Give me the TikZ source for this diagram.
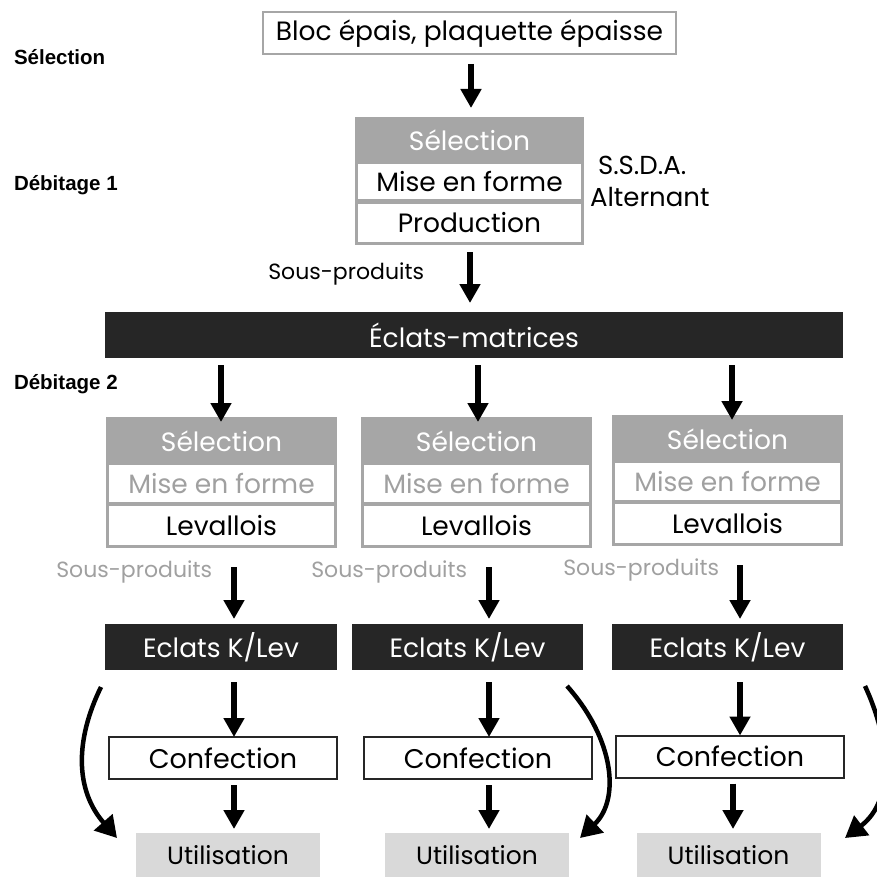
\documentclass[tikz,border=0pt]{standalone}
\usepackage{fontspec}
\setmainfont{Poppins}
\newfontfamily\lblfont{Liberation Sans}
\usetikzlibrary{arrows.meta}
\definecolor{hdrgray}{HTML}{A6A6A6}
\definecolor{bordgray}{HTML}{A6A6A6}
\definecolor{darkbar}{HTML}{262626}
\definecolor{utilgray}{HTML}{D9D9D9}
\definecolor{softtext}{HTML}{A0A0A0}
\tikzset{
  every node/.style={inner sep=0pt, outer sep=0pt},
  arr/.style={line width=5.5pt, -{Triangle[width=20pt,length=19pt]}},
  carr/.style={line width=4.5pt, -{Triangle[width=24pt,length=21pt]}},
  lbl/.style={anchor=west, font=\lblfont\bfseries\fontsize{20.5}{24}\selectfont},
  topbox/.style={draw=bordgray, line width=2pt, fill=white, minimum width=413pt, minimum height=42pt, font=\fontsize{26.5}{30}\selectfont},
  outer/.style={draw=bordgray, line width=2pt, fill=hdrgray},
  hdr/.style={text=white, font=\fontsize{26.5}{30}\selectfont},
  row/.style={fill=white, font=\fontsize{26.5}{30}\selectfont},
  dark/.style={fill=darkbar, text=white, font=\fontsize{26.5}{30}\selectfont},
  conf/.style={draw=darkbar, line width=2pt, fill=white, minimum width=228pt, minimum height=42pt, font=\fontsize{27}{30}\selectfont},
  util/.style={fill=utilgray, minimum width=184pt, minimum height=45pt, font=\fontsize{25}{30}\selectfont},
  sp/.style={font=\fontsize{22}{26}\selectfont}
}
\begin{document}
\begin{tikzpicture}[x=1pt,y=-1pt]
\useasboundingbox (0,0) rectangle (877,877);
% left labels
\node[lbl] (l1) at (14,57) {Sélection};
\node[lbl] (l2) at (14,185) {Débitage 1};
\node[lbl] (l3) at (14,384) {Débitage 2};
% top
\node[topbox] (bloc) at (469.5,33.5) {Bloc épais, plaquette épaisse};
% block 1
\node[outer, minimum width=227pt, minimum height=126pt] (b1) at (469.5,181) {};
\node[hdr] (b1s) at (469.5,140) {Sélection};
\node[row, minimum width=223pt, minimum height=35pt] (b1m) at (469.5,181.5) {Mise en forme};
\node[row, minimum width=223pt, minimum height=38pt] (b1p) at (469.5,223) {Production};
\node[anchor=west, font=\fontsize{26}{30}\selectfont] (ssda) at (598,165) {S.S.D.A.};
\node[anchor=west, font=\fontsize{26}{30}\selectfont] (alt) at (590,197) {Alternant};
\node[sp, anchor=east] (sp0) at (424,274) {Sous-produits};
\coordinate (a1s) at (471,64);
\coordinate (a2s) at (470,252);
\draw[arr] (a1s) -- (471,108);
\draw[arr] (a2s) -- (470,303);
% bar
\node[dark, minimum width=738pt, minimum height=46pt] (bar) at (474,335) {Éclats-matrices};
% columns
\foreach \i/\cx/\dy/\ax/\sx in {1/221.5/0/221/212, 2/476.5/0/478/467, 3/727.5/-2/732/719}{
  \node[outer, minimum width=229pt, minimum height=129pt] (c\i) at (\cx,482.5+\dy) {};
  \node[hdr] (c\i s) at (\cx,441+\dy) {Sélection};
  \node[row, text=softtext, minimum width=225pt, minimum height=37pt] (c\i m) at (\cx,483.5+\dy) {Mise en forme};
  \node[row, minimum width=225pt, minimum height=39pt] (c\i l) at (\cx,525.5+\dy) {Levallois};
  \node[sp, text=softtext, anchor=east] (sp\i) at (\sx,572+\dy) {Sous-produits};
  \draw[arr] (\ax,365) -- ([yshift=-4pt]c\i.north -| \ax,0);
}
\node[dark, minimum width=232pt, minimum height=46pt] (k1) at (221,647) {Eclats K/Lev};
\node[dark, minimum width=231pt, minimum height=46pt] (k2) at (467.5,647) {Eclats K/Lev};
\node[dark, minimum width=231pt, minimum height=46pt] (k3) at (727.5,647) {Eclats K/Lev};
\node[conf] (f1) at (223,758) {Confection};
\node[conf] (f2) at (478,758) {Confection};
\node[conf] (f3) at (730,756.5) {Confection};
\node[util] (u1) at (228,855) {Utilisation};
\node[util] (u2) at (477,855) {Utilisation};
\node[util] (u3) at (728.5,855) {Utilisation};
% arrows in columns
\draw[arr] (234,567) -- (234,619);
\draw[arr] (489,567) -- (489,619);
\draw[arr] (740,565) -- (740,619);
\draw[arr] (k1.south -| 234,0) ++(0,12) -- (f1.north -| 234,0);
\draw[arr] (k2.south -| 489,0) ++(0,12) -- (f2.north -| 489,0);
\draw[arr] (k3.south -| 740,0) ++(0,12) -- (f3.north -| 740,0);
\draw[arr] (f1.south -| 234,0) ++(0,6) -- (234,829);
\draw[arr] (f2.south -| 489,0) ++(0,6) -- (489,829);
\draw[arr] (f3.south -| 733,0) ++(0,6) -- (733,829);
% curved arrows
\coordinate (s1) at (101,687);
\coordinate (s2) at (567,686);
\coordinate (s3) at (865,686);
\draw[carr] (s1) .. controls (75,740) and (75,790) .. (117,838);
\draw[carr] (s2) .. controls (615,740) and (620,800) .. (580,838);
\draw[carr] (s3) .. controls (890,740) and (895,800) .. (845,838);
\end{tikzpicture}
\end{document}
